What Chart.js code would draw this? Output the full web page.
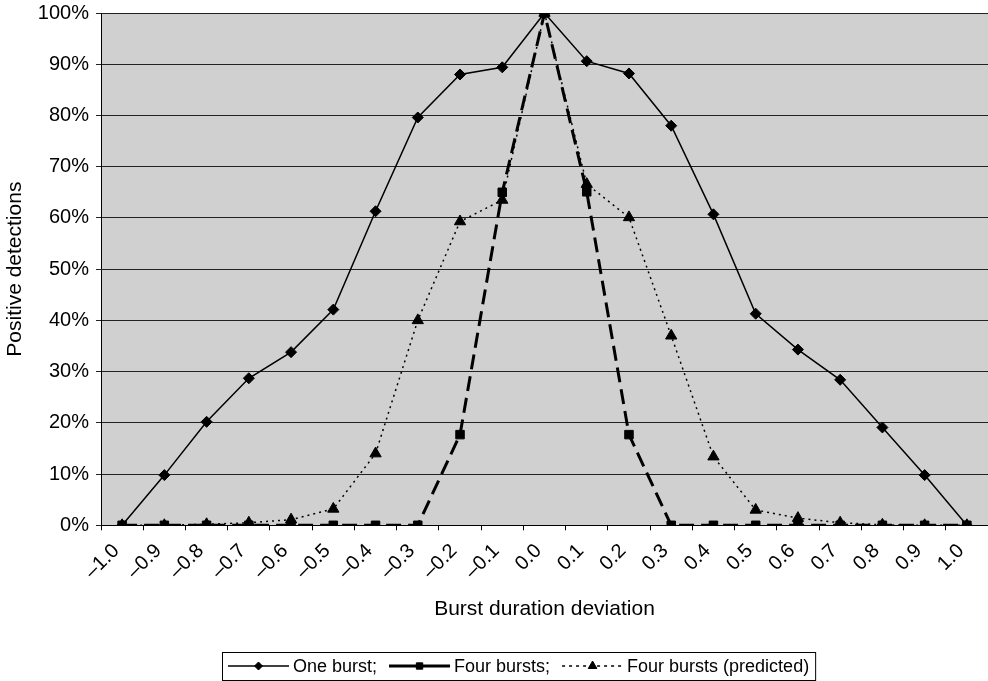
<!DOCTYPE html>
<html>
<head>
<meta charset="utf-8">
<script src="https://cdn.jsdelivr.net/npm/chart.js@4.4.0/dist/chart.umd.min.js"></script>
<style>
  html, body { margin: 0; padding: 0; background: #fff; }
  #wrap { width: 988px; height: 681px; }
</style>
</head>
<body>
<div id="wrap"><canvas id="chart" width="988" height="681"></canvas></div>
<script>
// burst duration deviation categories
var deviation = ['\u20131.0', '\u20130.9', '\u20130.8', '\u20130.7', '\u20130.6', '\u20130.5', '\u20130.4', '\u20130.3', '\u20130.2', '\u20130.1',
    '0.0', '0.1', '0.2', '0.3', '0.4', '0.5', '0.6', '0.7', '0.8', '0.9', '1.0'];

// positive detections, %
var oneBurst = [0, 9.8, 20.2, 28.7, 33.8, 42.1, 61.3, 79.6, 88.0, 89.4, 100, 90.6, 88.2, 78.0, 60.7, 41.3, 34.3, 28.4, 19.1, 9.8, 0];
var fourBursts = [0, 0, 0, 0, 0, 0, 0, 0, 17.7, 65.0, 100, 65.1, 17.7, 0, 0, 0, 0, 0, 0, 0, 0];
var fourPredicted = [0, 0, 0.2, 0.5, 1.1, 3.2, 14.0, 40.0, 59.3, 63.5, 100, 66.6, 60.1, 37.0, 13.4, 3.0, 1.4, 0.5, 0.1, 0, 0];

var seriesNames = ['One burst;', 'Four bursts;', 'Four bursts (predicted)'];

var FONT = '"Liberation Sans", Arial, sans-serif';

// grey plot area like the Excel original
var plotBg = {
    id: 'plotBg',
    beforeDraw: function (chart) {
        var a = chart.chartArea;
        var ctx = chart.ctx;
        ctx.save();
        ctx.fillStyle = '#d0d0d0';
        ctx.fillRect(a.left, a.top, a.right - a.left, a.bottom - a.top);
        ctx.restore();
    }
};

// boxed legend with line + marker samples
var boxLegend = {
    id: 'boxLegend',
    afterDraw: function (chart) {
        var ctx = chart.ctx;
        var sets = chart.data.datasets;
        var sampleW = 61, gapText = 4, gapItem = 12, pad = 6;
        var boxLeft = 222, boxTop = 652, boxH = 28;
        var midY = boxTop + boxH / 2;
        ctx.save();
        ctx.font = '18px ' + FONT;
        var widths = sets.map(function (ds) { return ctx.measureText(ds.label).width; });
        var total = pad * 2;
        widths.forEach(function (w, i) { total += sampleW + gapText + w + (i ? gapItem : 0); });

        ctx.fillStyle = '#fff';
        ctx.fillRect(boxLeft, boxTop, total, boxH);
        ctx.strokeStyle = '#000';
        ctx.lineWidth = 1;
        ctx.strokeRect(boxLeft + 0.5, boxTop + 0.5, total, boxH);

        var x = boxLeft + pad;
        sets.forEach(function (ds, i) {
            ctx.save();
            ctx.strokeStyle = '#000';
            ctx.lineWidth = ds.borderWidth;
            ctx.setLineDash(ds.legendDash || ds.borderDash || []);
            ctx.beginPath();
            ctx.moveTo(x, midY);
            ctx.lineTo(x + sampleW, midY);
            ctx.stroke();
            ctx.setLineDash([]);
            ctx.fillStyle = '#000';
            ctx.lineWidth = 1;
            Chart.helpers.drawPoint(ctx, {
                pointStyle: ds.pointStyle,
                radius: ds.pointRadius - 1.5,
                rotation: 0,
                borderWidth: 1
            }, x + sampleW / 2, midY);
            ctx.restore();
            ctx.fillStyle = '#000';
            ctx.textBaseline = 'middle';
            ctx.textAlign = 'left';
            ctx.fillText(ds.label, x + sampleW + gapText, midY + 1);
            x += sampleW + gapText + widths[i] + gapItem;
        });
        ctx.restore();
    }
};

var ctx = document.getElementById('chart').getContext('2d');

var chart = new Chart(ctx, {
    type: 'line',
    data: {
        labels: deviation,
        datasets: [{
                label: seriesNames[0],
                data: oneBurst,
                borderColor: '#000',
                backgroundColor: '#000',
                borderWidth: 1.5,
                pointStyle: 'rectRot',
                pointRadius: 5.5,
                pointBorderWidth: 1,
                order: 3
            },
            {
                label: seriesNames[1],
                data: fourBursts,
                borderColor: '#000',
                backgroundColor: '#000',
                borderWidth: 3,
                borderDash: [15, 7],
                legendDash: [],
                pointStyle: 'rect',
                pointRadius: 6,
                pointBorderWidth: 1,
                order: 2
            },
            {
                label: seriesNames[2],
                data: fourPredicted,
                borderColor: '#000',
                backgroundColor: '#000',
                borderWidth: 1.5,
                borderDash: [2, 4],
                legendDash: [3, 4],
                pointStyle: 'triangle',
                pointRadius: 6.5,
                pointBorderWidth: 1,
                order: 1
            }
        ]
    },
    options: {
        responsive: false,
        animation: false,
        devicePixelRatio: 1,
        layout: {
            autoPadding: false,
            padding: { top: 13, right: 0, bottom: 51.5, left: 0 }
        },
        plugins: {
            legend: { display: false },
            tooltip: { enabled: false }
        },
        elements: {
            line: { tension: 0 }
        },
        scales: {
            x: {
                type: 'category',
                offset: true,
                afterFit: function (scale) { scale.paddingRight = 0; },
                grid: {
                    offset: true,
                    drawOnChartArea: false,
                    drawTicks: true,
                    tickLength: 5,
                    color: '#000'
                },
                border: { display: true, color: '#000', width: 1 },
                ticks: {
                    autoSkip: false,
                    maxRotation: 45,
                    minRotation: 45,
                    padding: 9,
                    labelOffset: -6,
                    color: '#000',
                    font: { family: FONT, size: 20 }
                },
                title: {
                    display: true,
                    text: 'Burst duration deviation',
                    color: '#000',
                    font: { family: FONT, size: 21 },
                    padding: { top: 3.5, bottom: 8 }
                }
            },
            y: {
                min: 0,
                max: 100,
                afterFit: function (scale) {
                    scale.width = 101;
                    scale.paddingTop = 0;
                },
                grid: {
                    color: '#222',
                    lineWidth: 1,
                    drawTicks: true,
                    tickLength: 5
                },
                border: { display: true, color: '#000', width: 1 },
                ticks: {
                    stepSize: 10,
                    padding: 7,
                    color: '#000',
                    font: { family: FONT, size: 20 },
                    callback: function (v) { return v + '%'; }
                },
                title: {
                    display: true,
                    text: 'Positive detections',
                    color: '#000',
                    font: { family: FONT, size: 21 },
                    padding: { top: 3, bottom: 0 }
                }
            }
        }
    },
    plugins: [plotBg, boxLegend]
});
</script>
</body>
</html>
